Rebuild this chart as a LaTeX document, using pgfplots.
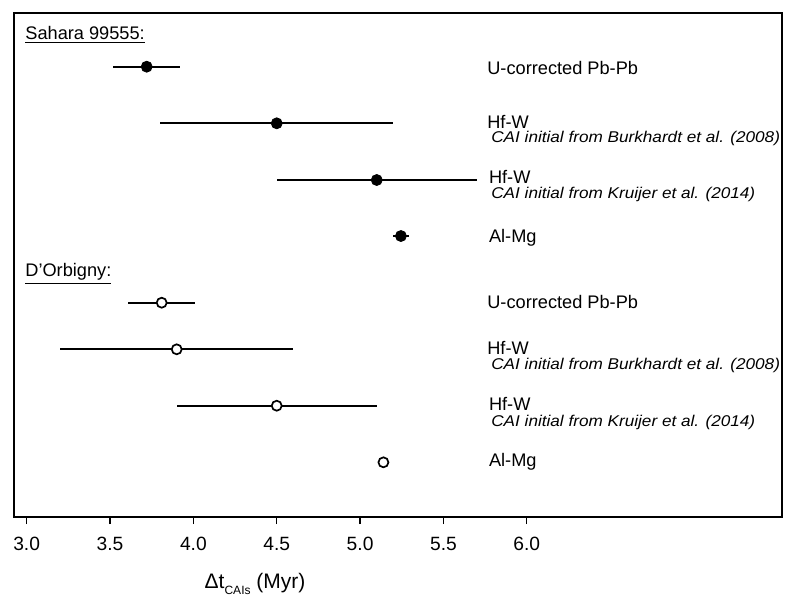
\documentclass[border=0pt]{standalone}
\usepackage{pgfplots}
\usepackage{pgfplotstable}
\pgfplotsset{compat=1.18}
\usepackage{fontspec}
\setmainfont{Liberation Sans}

% rows: x = Delta t (Myr), y = row position (top to bottom), e = error
\pgfplotstableread{
x     y      e
3.72  66.7   0.20
4.50  123.3  0.70
5.10  180.0  0.60
5.245 236.0  0.05
}\sahara
\pgfplotstableread{
x     y      e
3.81  302.7  0.20
3.90  349.3  0.70
4.50  405.7  0.60
5.14  462.3  0.03
}\dorbigny

\newcommand\lab{\fontsize{9.1}{11}\selectfont}
\newcommand\sub{\fontsize{7.8}{10}\selectfont\itshape}
\newcommand\ital[1]{\scalebox{1.1}[1]{#1}}

\begin{document}
\begin{tikzpicture}
\begin{axis}[
    width=384pt, height=252pt, scale only axis,
    xmin=2.924, xmax=7.531,
    ymin=13, ymax=517, y dir=reverse,
    xtick={3,3.5,4,4.5,5,5.5,6}, ytick=\empty,
    xtick pos=bottom, tick align=outside,
    major tick length=3.5pt,
    tick style={line width=0.7pt, black},
    xticklabel style={font=\fontsize{9.6}{12}\selectfont, yshift=-3pt,
        /pgf/number format/.cd, fixed, fixed zerofill, precision=1,
        assume math mode=true},
    axis line style={line width=0.9pt},
    clip=false,
]

% --- Sahara 99555 (filled) ---
\addplot[only marks, mark=*, mark size=2.75pt, black,
    error bars/.cd, x dir=both, x explicit, error mark=none,
    error bar style={line width=0.85pt, black}]
    table[x=x, y=y, x error=e] {\sahara};

% --- D'Orbigny (open) ---
\addplot[only marks, mark=*, mark size=2.5pt, black,
    mark options={fill=white, draw=black, line width=0.85pt},
    error bars/.cd, x dir=both, x explicit, error mark=none,
    error bar style={line width=0.85pt, black}]
    table[x=x, y=y, x error=e] {\dorbigny};

% group headers
\node[anchor=base west, inner sep=0, font=\lab] at (axis cs:2.99,39) {\underline{Sahara 99555:}};
\node[anchor=base west, inner sep=0, font=\lab] at (axis cs:2.99,276.7) {\underline{D’Orbigny:}};

% method labels
\node[anchor=base west, inner sep=0, font=\lab] at (axis cs:5.761,74.3) {U-corrected Pb-Pb};
\node[anchor=base west, inner sep=0, font=\lab] at (axis cs:5.761,128.3) {Hf-W};
\node[anchor=base west, inner sep=0, font=\sub] at (axis cs:5.785,142.5) {\ital{CAI initial from Burkhardt et al. (2008)}};
\node[anchor=base west, inner sep=0, font=\lab] at (axis cs:5.771,183.3) {Hf-W};
\node[anchor=base west, inner sep=0, font=\sub] at (axis cs:5.785,198.3) {\ital{CAI initial from Kruijer et al. (2014)}};
\node[anchor=base west, inner sep=0, font=\lab] at (axis cs:5.771,242.3) {Al-Mg};

\node[anchor=base west, inner sep=0, font=\lab] at (axis cs:5.761,308.3) {U-corrected Pb-Pb};
\node[anchor=base west, inner sep=0, font=\lab] at (axis cs:5.761,354.5) {Hf-W};
\node[anchor=base west, inner sep=0, font=\sub] at (axis cs:5.785,369.7) {\ital{CAI initial from Burkhardt et al. (2008)}};
\node[anchor=base west, inner sep=0, font=\lab] at (axis cs:5.771,410.5) {Hf-W};
\node[anchor=base west, inner sep=0, font=\sub] at (axis cs:5.785,426.5) {\ital{CAI initial from Kruijer et al. (2014)}};
\node[anchor=base west, inner sep=0, font=\lab] at (axis cs:5.771,466.7) {Al-Mg};

% axis title
\node[anchor=base, inner sep=0, font=\fontsize{10.5}{12}\selectfont] at (axis cs:4.37,588) {Δt\raisebox{-3.2pt}{\fontsize{6}{7}\selectfont CAIs} (Myr)};
\end{axis}
\path ([shift={(-7pt,-47.5pt)}]current axis.south west) rectangle ([shift={(9pt,6.5pt)}]current axis.north east);
\end{tikzpicture}
\end{document}
